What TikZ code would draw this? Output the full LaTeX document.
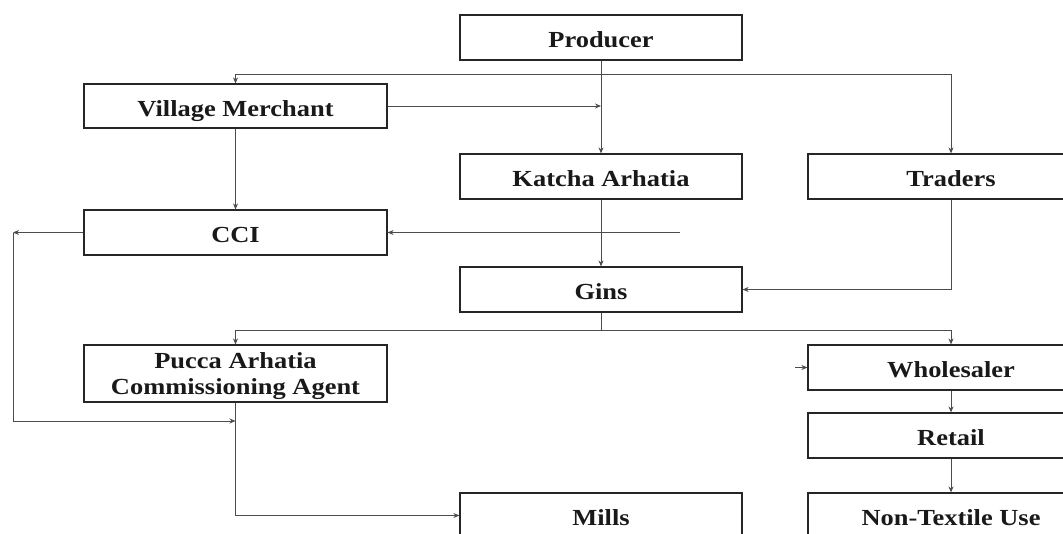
\documentclass[tikz,border=0pt]{standalone}
\usepackage{fontspec}
\setmainfont{Liberation Serif}[FakeStretch=1.15]
\usetikzlibrary{arrows.meta}
\begin{document}
\begin{tikzpicture}[x=1pt,y=-1pt,
  box/.style={draw=black!85,line width=1.2pt,minimum height=45pt,inner sep=0pt,
    font=\fontsize{23}{26}\selectfont\bfseries,align=center,text=black!90,
    text height=20pt,text depth=0pt},
  lbox/.style={box,minimum width=303pt},
  mbox/.style={box,minimum width=282pt},
  rbox/.style={box,minimum width=286pt},
  conn/.style={draw=black!70,line width=0.8pt},
  arr/.style={conn,-{Stealth[length=6pt,width=5pt]}}]
\useasboundingbox (0,0) rectangle (1063,533);
\clip (0,0) rectangle (1063,533);
% nodes
\node[mbox] (prod)   at (601,37.5)  {Producer};
\node[lbox,minimum height=44pt] (vm) at (235.5,106) {Village Merchant};
\node[mbox] (ka)     at (601,176.5) {Katcha Arhatia};
\node[rbox] (tr)     at (951,176.5) {Traders};
\node[lbox] (cci)    at (235.5,232.5) {CCI};
\node[mbox] (gins)   at (601,289.5) {Gins};
\node[lbox,minimum height=57pt,text height=,text depth=-9pt] (pucca) at (235.5,373.5) {Pucca Arhatia\\Commissioning Agent};
\node[rbox] (whole)  at (951,367.5) {Wholesaler};
\node[rbox] (retail) at (951,435.5) {Retail};
\node[mbox] (mills)  at (601,515.5) {Mills};
\node[rbox] (ntu)    at (951,515.5) {Non-Textile Use};
% junction coordinates
\coordinate (j1) at (601,74);
\coordinate (j3) at (601,330);
\coordinate (c1) at (680,232.5);
\coordinate (c2) at (13,232.5);
\coordinate (j4) at (235.5,421);
\coordinate (c3) at (795,367.5);
% connectors
\draw[arr] (prod.south) -- (ka.north);
\draw[arr] (j1) -| (vm.north);
\draw[arr] (j1) -| (tr.north);
\draw[arr] (vm.east) -- (vm.east -| ka.north);
\draw[arr] (vm.south) -- (cci.north);
\draw[arr] (ka.south) -- (gins.north);
\draw[arr] (c1) -- (cci.east);
\draw[arr] (cci.west) -- (c2);
\draw[arr] (c2) |- (j4);
\draw[arr] (tr.south) |- (gins.east);
\draw[conn] (gins.south) -- (j3);
\draw[arr] (j3) -| (pucca.north);
\draw[arr] (j3) -| (whole.north);
\draw[arr] (c3) -- (whole.west);
\draw[arr] (whole.south) -- (retail.north);
\draw[arr] (retail.south) -- (ntu.north);
\draw[arr] (pucca.south) |- (mills.west);
\end{tikzpicture}
\end{document}
